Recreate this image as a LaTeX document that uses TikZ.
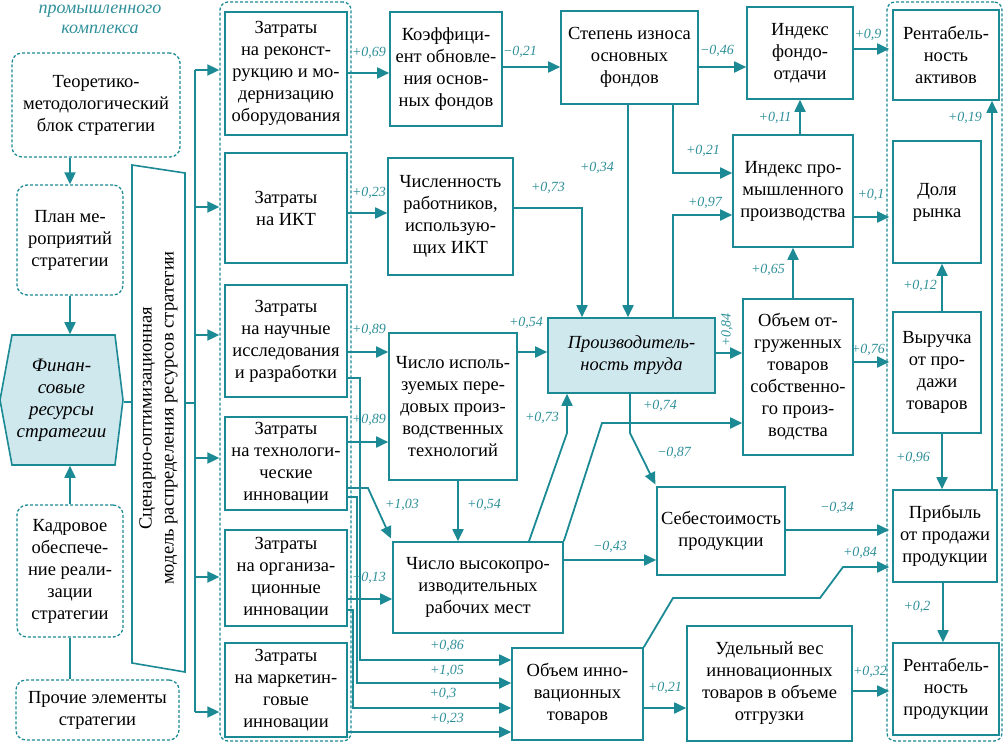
\documentclass[tikz,border=0pt]{standalone}
\usepackage{fontspec}
\setmainfont{Liberation Serif}
\usetikzlibrary{arrows.meta,calc}
\definecolor{tl}{HTML}{1B8A94}
\definecolor{fl}{HTML}{CFE8EE}
\definecolor{lb}{HTML}{2E8F99}
\newcommand\mkbox[7][]{\node[bx,#1,minimum width=#4pt-#2pt,minimum height=#5pt-#3pt] (#6) at ({(#2+#4)/2},{(#3+#5)/2}) {#7};}
\begin{document}
\begin{tikzpicture}[x=1pt,y=-1pt,
 bx/.style={draw=tl, line width=1.6pt, align=center, inner sep=0pt, font=\fontsize{18.5}{22}\selectfont},
 dbx/.style={draw=tl, line width=1.3pt, dash pattern=on 3pt off 2pt, rounded corners=10pt},
 grp/.style={draw=tl, line width=1.3pt, dash pattern=on 3pt off 2pt, rounded corners=8pt},
 arr/.style={draw=tl, line width=1.8pt, -{Triangle[length=12pt,width=11pt]}},
 ln/.style={draw=tl, line width=1.8pt},
 lab/.style={font=\fontsize{14}{14}\selectfont\itshape, text=lb, inner sep=0pt},
]
\useasboundingbox (0,0) rectangle (1005,744);
% title
\node[align=center, font=\fontsize{18}{20}\selectfont\itshape, text=lb, inner sep=0pt] (title) at (100,19) {промышленного\\комплекса};
% left column
\mkbox[dbx]{12}{53}{180}{157}{teor}{Теоретико-\\методологический\\блок стратегии}
\mkbox[dbx]{17}{185}{123}{295}{plan}{План ме-\\роприятий\\стратегии}
\mkbox[dbx]{17}{505}{123}{637}{kadr}{Кадровое\\обеспече-\\ние реали-\\зации\\стратегии}
\mkbox[dbx]{16}{680}{179}{740}{proch}{Прочие элементы\\стратегии}
\fill[fl] (12,335) -- (115,335) -- (123,400) -- (115,465) -- (12,465) -- (0,400) -- cycle;
\draw[tl, line width=1.6pt] (12,335) -- (115,335) -- (123,400) -- (115,465) -- (12,465) -- (0,400) -- cycle;
\mkbox[draw=none,font=\fontsize{19}{22}\selectfont\itshape]{0}{335}{123}{465}{fin}{Финан-\\совые\\ресурсы\\стратегии}
\draw[tl, line width=1.6pt] (132,165) -- (185,173) -- (185,672) -- (132,663) -- cycle;
\mkbox[draw=none]{132}{168}{185}{668}{model}{}
\node[rotate=90, align=center, font=\fontsize{18.5}{22}\selectfont, inner sep=0pt] (modeltext) at (model.center) {Сценарно-оптимизационная\\модель распределения ресурсов стратегии};
% groups
\mkbox[grp]{220}{2}{351}{741}{g1}{}
\mkbox[grp]{887}{2}{1002}{741}{g2}{}
% Zatraty
\mkbox{225}{12}{347}{135}{z1}{Затраты\\на реконст-\\рукцию и мо-\\дернизацию\\оборудования}
\mkbox{225}{153}{347}{263}{z2}{Затраты\\на ИКТ}
\mkbox{225}{285}{347}{397}{z3}{Затраты\\на научные\\исследования\\и разработки}
\mkbox{225}{417}{347}{510}{z4}{Затраты\\на технологи-\\ческие\\инновации}
\mkbox{225}{530}{347}{626}{z5}{Затраты\\на организа-\\ционные\\инновации}
\mkbox{225}{643}{347}{737}{z6}{Затраты\\на маркетин-\\говые\\инновации}
% column 2
\mkbox{390}{12}{502}{126}{koef}{Коэффици-\\ент обновле-\\ния основ-\\ных фондов}
\mkbox{388}{158}{513}{275}{chisl}{Численность\\работников,\\использую-\\щих ИКТ}
\mkbox{389}{333}{517}{480}{tech}{Число исполь-\\зуемых пере-\\довых произ-\\водственных\\технологий}
\mkbox{393}{542}{563}{633}{vysok}{Число высокопро-\\изводительных\\рабочих мест}
\mkbox{512}{648}{643}{740}{obinn}{Объем инно-\\вационных\\товаров}
% column 3
\mkbox{561}{11}{698}{104}{step}{Степень износа\\основных\\фондов}
\mkbox[fill=fl,font=\fontsize{18.5}{22}\selectfont\itshape]{548}{318}{715}{393}{proizv}{Производитель-\\ность труда}
\mkbox{657}{487}{785}{575}{sebest}{Себестоимость\\продукции}
\mkbox{687}{626}{852}{741}{udel}{Удельный вес\\инновационных\\товаров в объеме\\отгрузки}
% column 4
\mkbox{747}{7}{853}{99}{fondo}{Индекс\\фондо-\\отдачи}
\mkbox{733}{135}{853}{247}{indprom}{Индекс про-\\мышленного\\производства}
\mkbox{743}{299}{853}{455}{otgr}{Объем от-\\груженных\\товаров\\собственно-\\го произ-\\водства}
% right group
\mkbox{893}{10}{999}{100}{rentA}{Рентабель-\\ность\\активов}
\mkbox{893}{141}{981}{263}{dolya}{Доля\\рынка}
\mkbox{893}{312}{981}{433}{vyr}{Выручка\\от про-\\дажи\\товаров}
\mkbox{893}{490}{997}{582}{prib}{Прибыль\\от продажи\\продукции}
\mkbox{893}{643}{999}{735}{rentP}{Рентабель-\\ность\\продукции}
% left connectors
\draw[arr] (plan.north |- teor.south) -- (plan.north);
\draw[arr] (plan.south) -- (plan.south |- fin.north);
\draw[arr] (kadr.north) -- (kadr.north |- fin.south);
\draw[ln] (kadr.south) -- (kadr.south |- proch.north);
\draw[ln] (fin.east |- 0,402) -- (model.west |- 0,402);
\coordinate (bt) at (195,70);
\coordinate (bb) at (195,712);
\coordinate (bm) at (195,403);
\draw[ln] (model.east |- bm) -- (bm);
\draw[ln] (bt) -- (bb);
\foreach \yy in {70,207,335,458,577,712} \draw[arr] (195,\yy) -- (g1.west |- 0,\yy);
% zatraty connectors
\draw[arr] (z1.east |- 0,73) -- (koef.west |- 0,73);
\draw[arr] (z2.east |- 0,213) -- (chisl.west |- 0,213);
\draw[arr] (z3.east |- 0,352) -- (tech.west |- 0,352);
\draw[arr] (z4.east |- 0,442) -- (tech.west |- 0,442);
\draw[arr] (z3.east |- 0,378) -- (360,378) -- (360,660) -- (obinn.west |- 0,660);
\draw[arr, shorten >=3pt] (z4.east |- 0,488) -- (368,488) -- (vysok.north west);
\draw[arr] (z4.east |- 0,497) -- (357,497) -- (357,683) -- (obinn.west |- 0,683);
\draw[arr] (z5.east |- 0,599) -- (vysok.west |- 0,599);
\draw[arr] (z5.east |- 0,610) -- (353,610) -- (353,708) -- (obinn.west |- 0,708);
\draw[arr] (z6.east |- 0,732) -- (obinn.west |- 0,732);
\node[lab] at (369,53) {+0,69};
\node[lab] at (369,193) {+0,23};
\node[lab] at (369,330) {+0,89};
\node[lab] at (369,420) {+0,89};
\node[lab] at (402,505) {+1,03};
\node[lab] at (369,578) {+0,13};
\node[lab] at (447,646) {+0,86};
\node[lab] at (447,671) {+1,05};
\node[lab] at (443,694) {+0,3};
\node[lab] at (447,719) {+0,23};
% middle connectors
\draw[arr] (koef.east |- 0,67) -- (step.west |- 0,67);
\draw[arr] (chisl.east |- 0,208) -- (582,208) -- (proizv.north -| 582,0);
\draw[arr] (tech.east |- 0,352) -- (proizv.west |- 0,352);
\draw[arr] (tech.south -| 458,0) -- (vysok.north -| 458,0);
\draw[arr] (vysok.east |- 0,560) -- (sebest.west |- 0,560);
\draw[arr] (vysok.north -| 529,0) -- (567,433) -- (proizv.south -| 567,0);
\draw[arr] (vysok.north east) -- (602,423) -- (otgr.west |- 0,423);
\draw[arr] (step.south -| 628,0) -- (proizv.north -| 628,0);
\draw[arr] (step.south -| 673,0) -- (673,173) -- (indprom.west |- 0,173);
\draw[arr] (proizv.north -| 673,0) -- (673,215) -- (indprom.west |- 0,215);
\draw[arr] (step.east |- 0,67) -- (fondo.west |- 0,67);
\draw[arr] (proizv.east |- 0,353) -- (otgr.west |- 0,353);
\draw[arr, shorten >=2pt] (proizv.south -| 630,0) -- (630,433) -- (sebest.north west);
\draw[arr] (obinn.east |- 0,708) -- (udel.west |- 0,708);
\draw[arr, shorten >=3pt] (obinn.north east) -- (673,598) -- (820,598) -- (843,567) -- (prib.west |- 0,567);
\node[lab] at (520,52) {−0,21};
\node[lab] at (548,188) {+0,73};
\node[lab] at (526,323) {+0,54};
\node[lab] at (484,505) {+0,54};
\node[lab] at (610,547) {−0,43};
\node[lab] at (542,418) {+0,73};
\node[lab] at (660,406) {+0,74};
\node[lab] at (597,168) {+0,34};
\node[lab] at (703,151) {+0,21};
\node[lab] at (705,203) {+0,97};
\node[lab] at (717,51) {−0,46};
\node[lab, rotate=90] at (727,330) {+0,84};
\node[lab] at (674,453) {−0,87};
\node[lab] at (665,688) {+0,21};
\node[lab] at (860,553) {+0,84};
% right connectors
\draw[arr] (indprom.north -| 800,0) -- (fondo.south -| 800,0);
\draw[arr, shorten >=3pt] (indprom.east |- 0,217) -- (dolya.west |- 0,217);
\draw[arr] (otgr.north -| 793,0) -- (indprom.south -| 793,0);
\draw[arr, shorten >=3pt] (otgr.east |- 0,362) -- (vyr.west |- 0,362);
\draw[arr, shorten >=3pt] (fondo.east |- 0,49) -- (rentA.west |- 0,49);
\draw[arr, shorten >=3pt] (sebest.east |- 0,530) -- (prib.west |- 0,530);
\draw[arr, shorten >=3pt] (udel.east |- 0,691) -- (rentP.west |- 0,691);
\draw[arr] (vyr.north -| 942,0) -- (dolya.south -| 942,0);
\draw[arr] (vyr.south -| 942,0) -- (prib.north -| 942,0);
\draw[arr] (prib.north -| 992,0) -- (rentA.south -| 992,0);
\draw[arr] (prib.south -| 943,0) -- (rentP.north -| 943,0);
\node[lab] at (775,118) {+0,11};
\node[lab] at (871,195) {+0,1};
\node[lab] at (768,270) {+0,65};
\node[lab] at (868,350) {+0,76};
\node[lab] at (868,35) {+0,9};
\node[lab] at (837,508) {−0,34};
\node[lab] at (870,672) {+0,32};
\node[lab] at (920,286) {+0,12};
\node[lab] at (913,458) {+0,96};
\node[lab] at (965,118) {+0,19};
\node[lab] at (917,607) {+0,2};
\end{tikzpicture}
\end{document}
